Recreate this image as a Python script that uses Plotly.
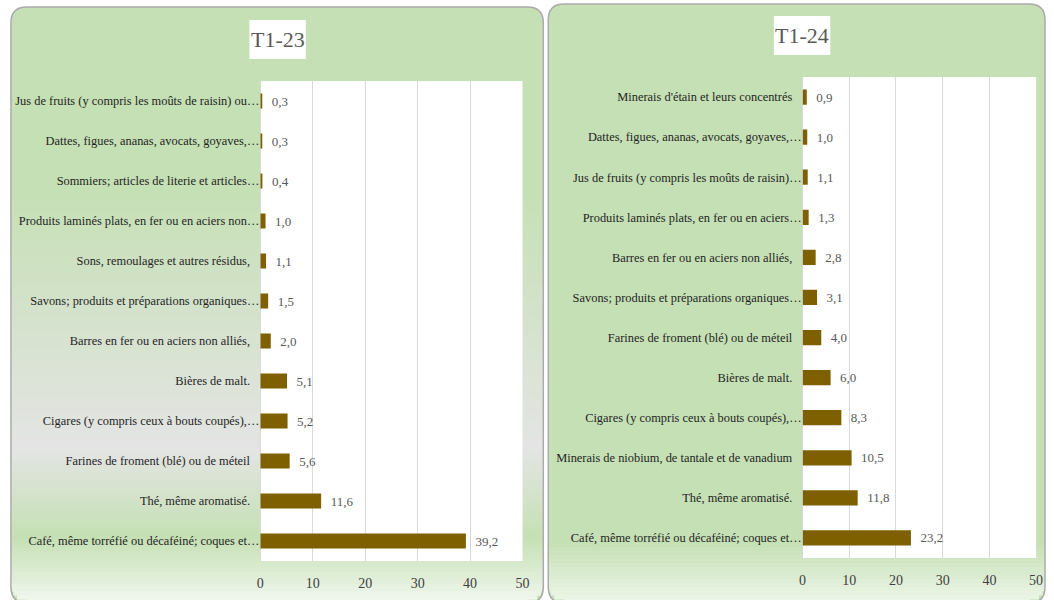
import plotly.graph_objects as go

W, H = 1054, 600

# ---------------- data ----------------
titles = ["T1-23", "T1-24"]

cats_23 = [
    "Jus de fruits (y compris les moûts de raisin) ou…",
    "Dattes, figues, ananas, avocats, goyaves,…",
    "Sommiers; articles de literie et articles…",
    "Produits laminés plats, en fer ou en aciers non…",
    "Sons, remoulages et autres résidus,",
    "Savons; produits et préparations organiques…",
    "Barres en fer ou en aciers non alliés,",
    "Bières de malt.",
    "Cigares (y compris ceux à bouts coupés),…",
    "Farines de froment (blé) ou de méteil",
    "Thé, même aromatisé.",
    "Café, même torréfié ou décaféiné; coques et…",
]
vals_23 = [0.3, 0.3, 0.4, 1.0, 1.1, 1.5, 2.0, 5.1, 5.2, 5.6, 11.6, 39.2]

cats_24 = [
    "Minerais d'étain et leurs concentrés",
    "Dattes, figues, ananas, avocats, goyaves,…",
    "Jus de fruits (y compris les moûts de raisin)…",
    "Produits laminés plats, en fer ou en aciers…",
    "Barres en fer ou en aciers non alliés,",
    "Savons; produits et préparations organiques…",
    "Farines de froment (blé) ou de méteil",
    "Bières de malt.",
    "Cigares (y compris ceux à bouts coupés),…",
    "Minerais de niobium, de tantale et de vanadium",
    "Thé, même aromatisé.",
    "Café, même torréfié ou décaféiné; coques et…",
]
vals_24 = [0.9, 1.0, 1.1, 1.3, 2.8, 3.1, 4.0, 6.0, 8.3, 10.5, 11.8, 23.2]

x_ticks = [0, 10, 20, 30, 40, 50]

# ---------------- style ----------------
FONT = "Liberation Serif, Times New Roman, serif"
BAR = "#7F6000"
GREEN = "#C5E0B4"
BORDER = "#ABABAB"
GRID = "#D9D9D9"


def px(x, y):
    return x / W, 1 - y / H


def hex2rgb(h):
    h = h.lstrip("#")
    return tuple(int(h[i:i + 2], 16) for i in (0, 2, 4))


def grad(t, stops):
    for (t0, c0), (t1, c1) in zip(stops[:-1], stops[1:]):
        if t0 <= t <= t1:
            f = 0 if t1 == t0 else (t - t0) / (t1 - t0)
            a, b = hex2rgb(c0), hex2rgb(c1)
            r = [round(a[k] + (b[k] - a[k]) * f) for k in range(3)]
            return "rgb(%d,%d,%d)" % tuple(r)
    return stops[-1][1]


def rounded_path(x0, y0, x1, y1, r):
    def P(x, y):
        u, v = px(x, y)
        return "%.5f,%.5f" % (u, v)

    s = "M" + P(x0 + r, y0)
    s += " L" + P(x1 - r, y0)
    s += " Q" + P(x1, y0) + " " + P(x1, y0 + r)
    s += " L" + P(x1, y1 - r)
    s += " Q" + P(x1, y1) + " " + P(x1 - r, y1)
    s += " L" + P(x0 + r, y1)
    s += " Q" + P(x0, y1) + " " + P(x0, y1 - r)
    s += " L" + P(x0, y0 + r)
    s += " Q" + P(x0, y0) + " " + P(x0 + r, y0)
    s += " Z"
    return s


def panel_shapes(x0, y0, x1, y1, r, stops, n=150):
    shapes = [dict(type="path", path=rounded_path(x0, y0, x1, y1, r),
                   fillcolor=stops[0][1], line_width=0, layer="below",
                   xref="paper", yref="paper")]
    hgt = y1 - y0
    base = grad(0, stops)
    for i in range(n):
        ya = y0 + hgt * i / n
        yb = y0 + hgt * (i + 1) / n + 0.6
        col = grad((i + 0.5) / n, stops)
        if col == base and (i + 0.5) / n < 0.5:
            continue
        inset = 0
        if yb > y1 - r:
            d = min(r, yb - (y1 - r))
            inset = r - (r * r - d * d) ** 0.5
        ax, ay = px(x0 + inset, ya)
        bx, by = px(x1 - inset, yb)
        shapes.append(dict(type="rect", x0=ax, x1=bx, y0=by, y1=ay,
                           xref="paper", yref="paper", fillcolor=col,
                           line_width=0, layer="below"))
    shapes.append(dict(type="path", path=rounded_path(x0, y0, x1, y1, r),
                       fillcolor="rgba(0,0,0,0)",
                       line=dict(color=BORDER, width=1.5), layer="below",
                       xref="paper", yref="paper"))
    return shapes


def white_rect(x0, y0, x1, y1):
    ax, ay = px(x0, y0)
    bx, by = px(x1, y1)
    return dict(type="rect", x0=ax, x1=bx, y0=by, y1=ay, xref="paper",
                yref="paper", fillcolor="white", line_width=0, layer="below")


def label(c):
    return c if c.endswith("…") else c + "\u00a0\u00a0\u00a0"


# panel geometry (pixels)
panels = [
    dict(box=(7, 7, 545, 603), plot=(259, 81, 524, 561), tbox=(248, 20, 305, 59)),
    dict(box=(550, 4, 1052, 603), plot=(807, 77, 1043, 558), tbox=(778, 16, 835, 55)),
]
stops_left = [(0.0, GREEN), (0.30, GREEN), (0.74, "#E4E4E4"), (0.89, GREEN), (1.0, "#F2F7EF")]
stops_right = [(0.0, GREEN), (0.90, GREEN), (1.0, "#EEF6EA")]

shapes = []
shapes += panel_shapes(*panels[0]["box"], 16, stops_left)
shapes += panel_shapes(*panels[1]["box"], 16, stops_right)
for p in panels:
    shapes.append(white_rect(*p["plot"]))
    shapes.append(white_rect(*p["tbox"]))

fig = go.Figure()
datasets = [(cats_23, vals_23), (cats_24, vals_24)]
annotations = []
for k, (cats, vals) in enumerate(datasets):
    sx = "" if k == 0 else "2"
    fig.add_trace(go.Bar(
        x=vals, y=cats, orientation="h", marker=dict(color=BAR, line=dict(width=0)),
        texttemplate="\u00a0\u00a0%{x:.1f}", textposition="outside",
        textfont=dict(family=FONT, size=13, color="#595959"),
        constraintext="none", cliponaxis=False, hoverinfo="skip",
        xaxis="x" + sx, yaxis="y" + sx, showlegend=False,
    ))
    p = panels[k]
    x0, y0, x1, y1 = p["plot"]
    fig.layout["xaxis" + sx] = dict(
        domain=[x0 / W, x1 / W], range=[0, 50], anchor="y" + sx,
        tickvals=x_ticks, showgrid=True, gridcolor=GRID, gridwidth=1,
        zeroline=True, zerolinecolor=GRID, zerolinewidth=1, showline=False,
        ticks="outside", ticklen=9, tickcolor="rgba(0,0,0,0)",
        tickfont=dict(family=FONT, size=14, color="#404040"), fixedrange=True,
    )
    fig.layout["yaxis" + sx] = dict(
        domain=[1 - y1 / H, 1 - y0 / H], anchor="x" + sx, type="category",
        categoryorder="array", categoryarray=cats, autorange="reversed",
        tickvals=cats, ticktext=[label(c) for c in cats],
        showgrid=False, zeroline=False, showline=False, ticks="",
        tickfont=dict(family=FONT, size=12.4, color="#1F1F1F"), fixedrange=True,
    )
    tx0, ty0, tx1, ty1 = p["tbox"]
    annotations.append(dict(
        text=titles[k], x=(tx0 + tx1) / 2 / W, y=1 - (ty0 + ty1) / 2 / H,
        xref="paper", yref="paper", showarrow=False, xanchor="center",
        yanchor="middle", font=dict(family=FONT, size=22, color="#595959"),
    ))

fig.update_layout(
    width=W, height=H, margin=dict(l=0, r=0, t=0, b=0),
    paper_bgcolor="white", plot_bgcolor="rgba(0,0,0,0)",
    bargap=0.62, separators=", ", shapes=shapes, annotations=annotations,
    showlegend=False,
)

fig.write_html("out.html", config={"displayModeBar": False},
               post_script="document.body.style.margin='0px';")
